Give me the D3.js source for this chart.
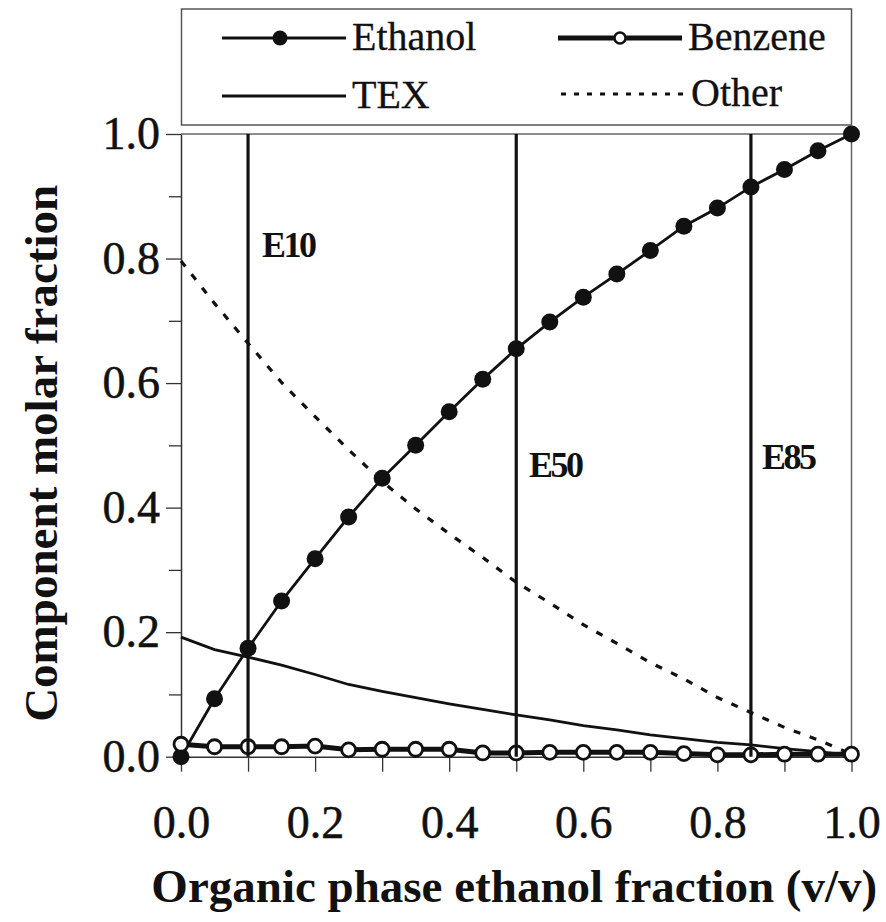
<!DOCTYPE html>
<html>
<head>
<meta charset="utf-8">
<script src="https://cdn.jsdelivr.net/npm/d3@7"></script>
<style>
  html, body { margin: 0; padding: 0; background: #fff; }
  svg { display: block; }
  text { font-family: "Liberation Serif", "Times New Roman", Times, serif; fill: #111; }
</style>
</head>
<body>
<svg id="chart" width="886" height="922"></svg>
<script>
// ---- Data ----
const xFraction = [0, 0.05, 0.1, 0.15, 0.2, 0.25, 0.3, 0.35, 0.4, 0.45, 0.5, 0.55, 0.6, 0.65, 0.7, 0.75, 0.8, 0.85, 0.9, 0.95, 1.0];
const ethanol = [0, 0.093, 0.174, 0.25, 0.318, 0.385, 0.447, 0.5, 0.554, 0.606, 0.655, 0.698, 0.738, 0.775, 0.813, 0.852, 0.881, 0.915, 0.943, 0.973, 1.0];
const benzene = [0.020, 0.016, 0.016, 0.016, 0.017, 0.011, 0.012, 0.012, 0.012, 0.006, 0.006, 0.007, 0.007, 0.007, 0.007, 0.005, 0.003, 0.003, 0.004, 0.004, 0.004];
const tex = [0.192, 0.172, 0.160, 0.147, 0.132, 0.116, 0.105, 0.095, 0.085, 0.076, 0.067, 0.059, 0.050, 0.043, 0.035, 0.029, 0.023, 0.019, 0.013, 0.008, 0.002];
const other = [0.796, 0.728, 0.664, 0.601, 0.546, 0.493, 0.442, 0.398, 0.358, 0.320, 0.280, 0.247, 0.212, 0.182, 0.151, 0.125, 0.095, 0.071, 0.047, 0.027, 0.004];
const blends = ["E10", "E50", "E85"];
const blendX = [0.1, 0.5, 0.85];
const majorTicks = [0, 0.2, 0.4, 0.6, 0.8, 1.0];
const minorTicks = [0.1, 0.3, 0.5, 0.7, 0.9];
const seriesNames = ["Ethanol", "Benzene", "TEX", "Other"];
const xTitle = "Organic phase ethanol fraction (v/v)";
const yTitle = "Component molar fraction";

// ---- Layout ----
const FONT = "'Liberation Serif', 'Times New Roman', Times, serif";
const svg = d3.select("#chart");
const L = 181, R = 851.5, T = 134, B = 756.7;
const x = d3.scaleLinear().domain([0, 1]).range([L, R]);
const y = d3.scaleLinear().domain([0, 1]).range([B, T]);
const fmt = d3.format(".1f");

// plot frame (top & right, light)
svg.append("line").attr("x1", L).attr("x2", R).attr("y1", T).attr("y2", T)
  .attr("stroke", "#666").attr("stroke-width", 1.5);
svg.append("line").attr("x1", R).attr("x2", R).attr("y1", T).attr("y2", B)
  .attr("stroke", "#666").attr("stroke-width", 1.5);

// Y axis
const yAxisG = svg.append("g").attr("transform", `translate(${L},0)`)
  .call(d3.axisLeft(y).tickValues(majorTicks).tickSize(15).tickSizeOuter(0).tickPadding(6).tickFormat(fmt));
svg.append("g").attr("transform", `translate(${L},0)`)
  .call(d3.axisLeft(y).tickValues(minorTicks).tickSize(12).tickSizeOuter(0).tickFormat(""))
  .select(".domain").remove();
yAxisG.selectAll("text").attr("font-size", 46).attr("font-family", FONT).attr("fill", "#111")
  .attr("stroke", "#111").attr("stroke-width", 0.5);

// X axis
const xAxisG = svg.append("g").attr("transform", `translate(0,${B})`)
  .call(d3.axisBottom(x).tickValues(majorTicks).tickSize(15).tickSizeOuter(0).tickFormat(fmt));
svg.append("g").attr("transform", `translate(0,${B})`)
  .call(d3.axisBottom(x).tickValues(minorTicks).tickSize(15).tickSizeOuter(0).tickFormat(""))
  .select(".domain").remove();
xAxisG.selectAll("text").attr("font-size", 46).attr("font-family", FONT).attr("fill", "#111")
  .attr("stroke", "#111").attr("stroke-width", 0.5)
  .attr("y", 67).attr("dy", "0.32em");

svg.selectAll(".domain").attr("stroke", "#333").attr("stroke-width", 1.5);
svg.selectAll(".tick line").attr("stroke", "#333").attr("stroke-width", 1.3);

// Axis titles
svg.append("text").attr("x", (L + R) / 2 - 2).attr("y", 902).attr("text-anchor", "middle")
  .attr("font-family", FONT).attr("font-size", 47).attr("font-weight", "bold").text(xTitle);
svg.append("text").attr("transform", `translate(57,${(T + B) / 2 + 8}) rotate(-90)`).attr("text-anchor", "middle")
  .attr("font-family", FONT).attr("font-size", 47).attr("font-weight", "bold").text(yTitle);

// ---- Series ----
const idx = d3.range(xFraction.length);
const lineOf = arr => d3.line().x(i => x(xFraction[i])).y(i => y(arr[i]))(idx);

svg.append("path").attr("d", lineOf(other)).attr("fill", "none")
  .attr("stroke", "#111").attr("stroke-width", 3.2).attr("stroke-dasharray", "7,10");
svg.append("path").attr("d", lineOf(tex)).attr("fill", "none")
  .attr("stroke", "#111").attr("stroke-width", 2.8);

// ethanol
svg.append("path").attr("d", lineOf(ethanol)).attr("fill", "none")
  .attr("stroke", "#111").attr("stroke-width", 2.8);
svg.append("g").selectAll("circle").data(idx).join("circle")
  .attr("cx", i => x(xFraction[i])).attr("cy", i => y(ethanol[i])).attr("r", 8.5).attr("fill", "#111");

// benzene
svg.append("path").attr("d", lineOf(benzene)).attr("fill", "none")
  .attr("stroke", "#111").attr("stroke-width", 5);
svg.append("g").selectAll("circle").data(idx).join("circle")
  .attr("cx", i => x(xFraction[i])).attr("cy", i => y(benzene[i])).attr("r", 7)
  .attr("fill", "#fff").attr("stroke", "#111").attr("stroke-width", 2.8);

// blend vertical lines
svg.append("g").selectAll("line").data(blendX).join("line")
  .attr("x1", d => x(d)).attr("x2", d => x(d)).attr("y1", T).attr("y2", B)
  .attr("stroke", "#111").attr("stroke-width", 3.2);
const labelPos = [[262, 257], [529, 477], [762, 469]];
svg.append("g").selectAll("text").data(blends).join("text")
  .attr("x", (d, i) => labelPos[i][0]).attr("y", (d, i) => labelPos[i][1])
  .attr("font-family", FONT).attr("font-size", 36).attr("font-weight", "bold").attr("letter-spacing", -2.5).text(d => d);

// ---- Legend ----
const lg = svg.append("g");
lg.append("rect").attr("x", L + 0.5).attr("y", 9).attr("width", R - L - 0.5).attr("height", 116)
  .attr("fill", "#fff").attr("stroke", "#555").attr("stroke-width", 1.5);
const legendItems = [
  { name: seriesNames[0], x0: 222, y0: 38, width: 2.8, dash: null, marker: "filled" },
  { name: seriesNames[1], x0: 558, y0: 38, width: 5, dash: null, marker: "open" },
  { name: seriesNames[2], x0: 222, y0: 96, width: 2.8, dash: null, marker: null },
  { name: seriesNames[3], x0: 561, y0: 94, width: 3, dash: "5,8", marker: null }
];
legendItems.forEach(it => {
  const len = 124;
  lg.append("line").attr("x1", it.x0).attr("x2", it.x0 + len).attr("y1", it.y0).attr("y2", it.y0)
    .attr("stroke", "#111").attr("stroke-width", it.width).attr("stroke-dasharray", it.dash);
  if (it.marker === "filled") {
    lg.append("circle").attr("cx", it.x0 + len / 2 - 4).attr("cy", it.y0).attr("r", 7.5).attr("fill", "#111");
  } else if (it.marker === "open") {
    lg.append("circle").attr("cx", it.x0 + len / 2).attr("cy", it.y0).attr("r", 5.5)
      .attr("fill", "#fff").attr("stroke", "#111").attr("stroke-width", 2.5);
  }
  lg.append("text").attr("x", it.x0 + len + 6).attr("y", it.y0 + 12)
    .attr("font-family", FONT).attr("font-size", 40)
    .attr("stroke", "#111").attr("stroke-width", 0.3).text(it.name);
});
</script>
</body>
</html>
